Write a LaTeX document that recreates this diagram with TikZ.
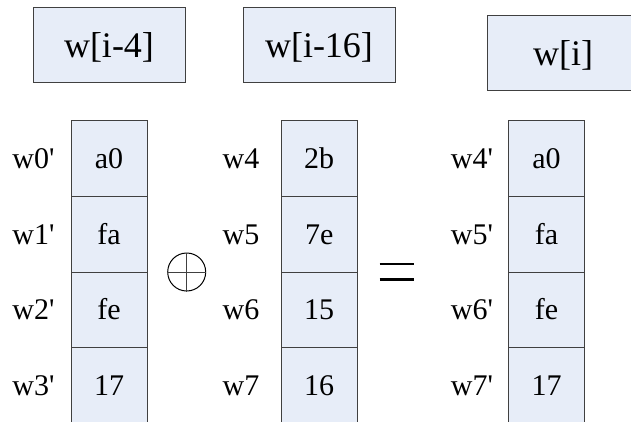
\documentclass[tikz,border=0pt]{standalone}
\usepackage{fontspec}
\setmainfont{Liberation Serif}
\definecolor{boxfill}{RGB}{231,237,248}
\definecolor{boxline}{RGB}{64,64,64}
\begin{document}
\begin{tikzpicture}[x=1pt,y=-1pt,
  box/.style={draw=boxline, fill=boxfill, line width=1pt, rectangle, inner sep=0pt, outer sep=0pt},
  rowtext/.style={font=\fontsize{30}{36}\selectfont, text height=27pt, text depth=7.4pt},
  cell/.style={box, rowtext, minimum width=76pt, minimum height=75.7pt},
  hdr/.style={box, minimum width=152pt, minimum height=75.5pt, font=\fontsize{36}{43}\selectfont, text height=33pt, text depth=8pt},
  lbl/.style={rowtext, inner sep=0pt},
  opl/.style={draw=black, line width=1pt, circle, minimum size=38pt, inner sep=0pt},
  eqbar/.style={line width=2.8pt, black}]
\useasboundingbox (0,0) rectangle (631,421);
\clip (0,0) rectangle (631,421);
% header boxes
\node[hdr] (h1) at (109,45) {w[i-4]};
\node[hdr] (h2) at (319,45) {w[i-16]};
\node[hdr] (h3) at (563,53) {w[i]};
% column 1
\node[cell] (a1) at (109,158.5) {a0};
\node[cell] (a2) at (109,234.2) {fa};
\node[cell] (a3) at (109,309.9) {fe};
\node[cell] (a4) at (109,385.6) {17};
\node[lbl] (la1) at (33.5,158.5) {w0\textquotesingle};
\node[lbl] (la2) at (33.5,234.2) {w1\textquotesingle};
\node[lbl] (la3) at (33.5,309.9) {w2\textquotesingle};
\node[lbl] (la4) at (33.5,385.6) {w3\textquotesingle};
% column 2
\node[cell] (b1) at (319.2,158.5) {2b};
\node[cell] (b2) at (319.2,234.2) {7e};
\node[cell] (b3) at (319.2,309.9) {15};
\node[cell] (b4) at (319.2,385.6) {16};
\node[lbl] (lb1) at (241,158.5) {w4};
\node[lbl] (lb2) at (241,234.2) {w5};
\node[lbl] (lb3) at (241,309.9) {w6};
\node[lbl] (lb4) at (241,385.6) {w7};
% column 3
\node[cell] (c1) at (546.5,158.5) {a0};
\node[cell] (c2) at (546.5,234.2) {fa};
\node[cell] (c3) at (546.5,309.9) {fe};
\node[cell] (c4) at (546.5,385.6) {17};
\node[lbl] (lc1) at (472,158.5) {w4\textquotesingle};
\node[lbl] (lc2) at (472,234.2) {w5\textquotesingle};
\node[lbl] (lc3) at (472,309.9) {w6\textquotesingle};
\node[lbl] (lc4) at (472,385.6) {w7\textquotesingle};
% xor symbol
\node[opl] (xor) at (186.7,272) {};
\draw[line width=1pt, boxline] (xor.north) -- (xor.south);
\draw[line width=1pt, boxline] (xor.west) -- (xor.east);
% equal sign
\coordinate (e1) at (379.5,264);
\coordinate (e2) at (413.5,264);
\coordinate (e3) at (379.5,279.5);
\coordinate (e4) at (413.5,279.5);
\draw[eqbar] (e1) -- (e2);
\draw[eqbar] (e3) -- (e4);
\end{tikzpicture}
\end{document}
